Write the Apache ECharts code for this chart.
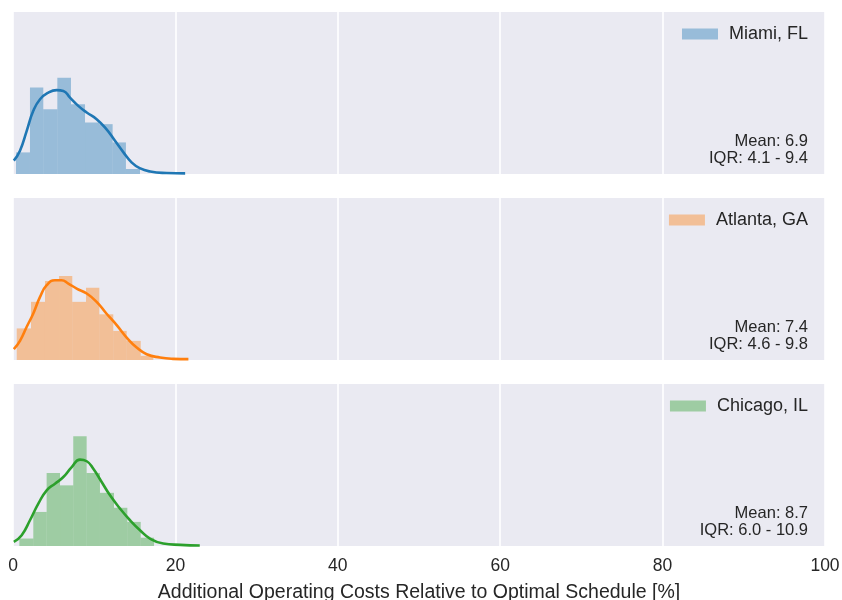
<!DOCTYPE html>
<html>
<head>
<meta charset="utf-8">
<script src="https://cdn.jsdelivr.net/npm/echarts@6/dist/echarts.min.js"></script>
<style>html,body{margin:0;padding:0;background:#fff;}#c{width:842px;height:600px;}</style>
</head>
<body>
<div id="c"></div>
<script>
// ---- data ----
const cities = ['Miami, FL', 'Atlanta, GA', 'Chicago, IL'];
const colors = ['#1f77b4', '#ff7f0e', '#2ca02c'];
const xTicks = [0, 20, 40, 60, 80, 100];
const xTitle = 'Additional Operating Costs Relative to Optimal Schedule [%]';
const means = ['6.9', '7.4', '8.7'];
const iqrs = ['4.1 - 9.4', '4.6 - 9.8', '6.0 - 10.9'];

// histogram bin edges and densities
const miamiEdges = [0.37, 2.09, 3.73, 5.46, 7.14, 8.87, 10.59, 12.27, 13.91, 15.64];
const miamiDens  = [0.026, 0.104, 0.078, 0.116, 0.084, 0.062, 0.060, 0.038, 0.006];
const atlantaEdges = [0.46, 2.22, 3.94, 5.67, 7.30, 8.99, 10.63, 12.35, 14.00, 15.73, 17.28];
const atlantaDens  = [0.038, 0.070, 0.095, 0.101, 0.070, 0.087, 0.055, 0.035, 0.023, 0.005];
const chicagoEdges = [0.78, 2.50, 4.14, 5.79, 7.42, 9.07, 10.71, 12.44, 14.08, 15.73, 17.37];
const chicagoDens  = [0.009, 0.041, 0.088, 0.073, 0.132, 0.088, 0.064, 0.046, 0.029, 0.010];

// KDE curves [x, density]
const miamiKde = [[0.1,0.016],[0.86,0.028],[1.69,0.052],[2.5,0.076],[3.33,0.090],[4.35,0.098],[5.38,0.101],[6.2,0.100],[7.02,0.092],[8.04,0.082],[9.08,0.074],[10.3,0.066],[11.5,0.054],[12.56,0.040],[13.6,0.026],[14.6,0.014],[15.6,0.007],[16.9,0.003],[18.9,0.0012],[21.2,0.0007]];
const atlantaKde = [[0.1,0.013],[0.86,0.023],[1.69,0.040],[2.5,0.056],[3.33,0.076],[4.15,0.090],[5.17,0.096],[5.99,0.096],[6.81,0.092],[7.84,0.086],[9.08,0.080],[10.3,0.070],[11.5,0.056],[12.77,0.042],[14.0,0.027],[15.23,0.015],[16.46,0.007],[18.1,0.003],[19.7,0.0014],[21.6,0.001]];
const chicagoKde = [[0.1,0.005],[1.07,0.013],[2.09,0.031],[3.12,0.051],[4.15,0.067],[5.17,0.075],[6.2,0.083],[7.23,0.095],[8.25,0.104],[9.08,0.102],[9.89,0.093],[10.92,0.077],[11.95,0.061],[13.18,0.045],[14.41,0.031],[15.64,0.019],[16.87,0.009],[18.5,0.003],[20.6,0.0014],[23.0,0.0006]];

const edgesAll = [miamiEdges, atlantaEdges, chicagoEdges];
const densAll = [miamiDens, atlantaDens, chicagoDens];
const kdeAll = [miamiKde, atlantaKde, chicagoKde];

// ---- layout ----
const gridTops = [12, 198, 384];
const gridH = 162;
const yMax = 0.195;
const FONT = '"Liberation Sans", Arial, Helvetica, sans-serif';
const TXT = '#262626';

function rgba(hex, a) {
  const n = parseInt(hex.slice(1), 16);
  return 'rgba(' + ((n >> 16) & 255) + ',' + ((n >> 8) & 255) + ',' + (n & 255) + ',' + a + ')';
}

const grids = [], xAxes = [], yAxes = [], series = [], legends = [], graphics = [];
cities.forEach((city, i) => {
  grids.push({left: 13, right: 17, top: gridTops[i], height: gridH, show: true,
    backgroundColor: '#eaeaf2', borderWidth: 0, containLabel: false, outerBoundsMode: 'none'});
  const last = i === cities.length - 1;
  xAxes.push({type: 'value', gridIndex: i, min: 0, max: 100, interval: 20,
    axisLine: {show: false}, axisTick: {show: false},
    axisLabel: {show: last, color: TXT, fontSize: 17.5, fontFamily: FONT, margin: 11},
    splitLine: {show: true, lineStyle: {color: '#ffffff', width: 1.6}},
    name: last ? xTitle : '', nameLocation: 'middle', nameGap: 37,
    nameTextStyle: {color: TXT, fontSize: 19.5, fontFamily: FONT}});
  yAxes.push({type: 'value', gridIndex: i, min: 0, max: yMax,
    axisLine: {show: false}, axisTick: {show: false}, axisLabel: {show: false}, splitLine: {show: false}});
  const edges = edgesAll[i];
  const hist = densAll[i].map((d, k) => [edges[k], edges[k + 1], d]);
  series.push({type: 'custom', name: city, xAxisIndex: i, yAxisIndex: i,
    itemStyle: {color: rgba(colors[i], 0.4)},
    encode: {x: [0, 1], y: 2},
    data: hist,
    renderItem: function (params, api) {
      const p0 = api.coord([api.value(0), 0]);
      const p1 = api.coord([api.value(1), api.value(2)]);
      return {type: 'rect', shape: {x: p0[0], y: p1[1], width: p1[0] - p0[0], height: p0[1] - p1[1]},
        style: {fill: rgba(colors[i], 0.4)}};
    }});
  series.push({type: 'line', name: city + ' KDE', xAxisIndex: i, yAxisIndex: i,
    data: kdeAll[i], smooth: true, showSymbol: false, clip: true,
    lineStyle: {color: colors[i], width: 2.6}, z: 5});
  legends.push({data: [{name: city, icon: 'rect', itemStyle: {color: rgba(colors[i], 0.4)}}],
    right: 34, top: gridTops[i] + 12, padding: 0, itemWidth: 36, itemHeight: 11,
    selectedMode: false,
    textStyle: {color: TXT, fontSize: 18, fontFamily: FONT, lineHeight: 20, padding: [0, 0, 0, 6]}});
  graphics.push({type: 'text', right: 34, top: gridTops[i] + 121,
    style: {text: 'Mean: ' + means[i] + '\nIQR: ' + iqrs[i], textAlign: 'right',
      fill: TXT, font: '16.5px ' + FONT, lineHeight: 17}});
});

const chart = echarts.init(document.getElementById('c'), null, {renderer: 'canvas'});
chart.setOption({
  animation: false,
  backgroundColor: '#ffffff',
  grid: grids, xAxis: xAxes, yAxis: yAxes, series: series, legend: legends, graphic: graphics
});
</script>
</body>
</html>
